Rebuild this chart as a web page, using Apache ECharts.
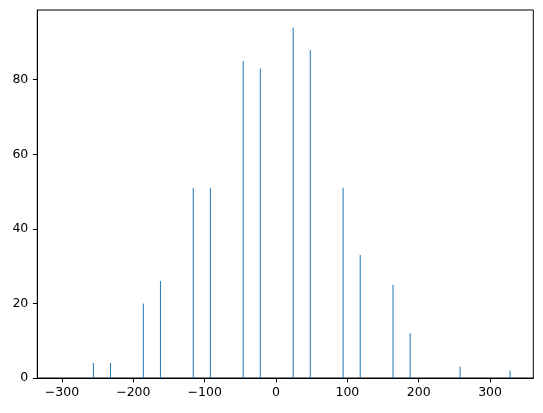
<!DOCTYPE html>
<html>
<head>
<meta charset="utf-8">
<script src="https://cdn.jsdelivr.net/npm/echarts@6/dist/echarts.min.js"></script>
<style>
html,body{margin:0;padding:0;background:#fff;}
#chart{width:543px;height:413px;}
</style>
</head>
<body>
<div id="chart"></div>
<script>
// Bar positions (x) and heights (counts)
const positions = [-302, -256, -232, -186, -162, -116, -92, -46, -22, 24, 48, 94, 118, 164, 188, 258, 328];
const counts    = [0,    4,    4,    20,   26,   51,   51,  85,  83,  94, 88, 51, 33,  25,  12,  3,   2];
const xTicks = [-300, -200, -100, 0, 100, 200, 300];
const yTicks = [0, 20, 40, 60, 80];

const data = positions.map((p, i) => [p, counts[i]]);
const fmt = v => (v < 0 ? '\u2212' + Math.abs(v) : String(v));

const chart = echarts.init(document.getElementById('chart'), null, {renderer: 'canvas'});
chart.setOption({
  animation: false,
  backgroundColor: '#fff',
  grid: {left: 37.3, right: 9.7, top: 10, bottom: 35, show: true, borderColor: '#000', borderWidth: 1, backgroundColor: 'transparent'},
  xAxis: {
    type: 'value', min: -334.6, max: 360.6,
    splitLine: {show: false},
    axisLine: {show: true, onZero: false, lineStyle: {color: '#000', width: 1}},
    axisTick: {show: true, inside: false, customValues: xTicks, length: 4.4, lineStyle: {color: '#000', width: 1}},
    axisLabel: {customValues: xTicks, formatter: fmt, color: '#000', fontFamily: 'DejaVu Sans', fontSize: 12.5, margin: 8}
  },
  yAxis: {
    type: 'value', min: 0, max: 98.7,
    splitLine: {show: false},
    axisLine: {show: true, onZero: false, lineStyle: {color: '#000', width: 1}},
    axisTick: {show: true, inside: false, customValues: yTicks, length: 4.4, lineStyle: {color: '#000', width: 1}},
    axisLabel: {customValues: yTicks, formatter: fmt, color: '#000', fontFamily: 'DejaVu Sans', fontSize: 12.5, margin: 9}
  },
  series: [{
    type: 'bar',
    data: data,
    barWidth: 1,
    itemStyle: {color: '#1f77b4'}
  }]
});
</script>
</body>
</html>
